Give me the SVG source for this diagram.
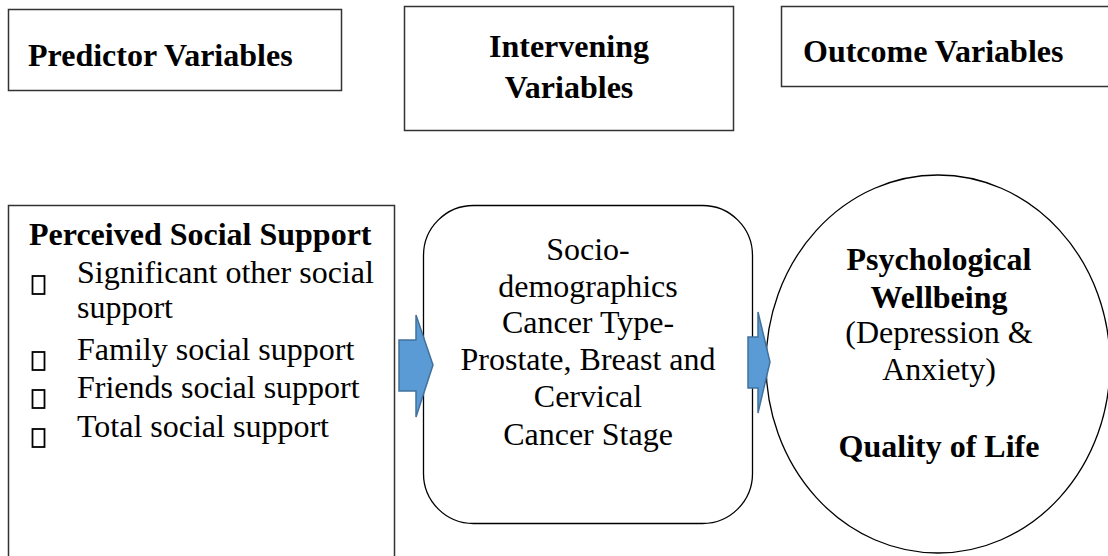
<svg xmlns="http://www.w3.org/2000/svg" width="1108" height="556" viewBox="0 0 1108 556">
<style>
.box{fill:#fff;stroke:#333;stroke-width:1.5}
.shape{fill:#fff;stroke:#000;stroke-width:1.3}
.b{font-family:"Liberation Serif","Times New Roman",serif;font-weight:bold;font-size:32px;fill:#000}
.r{font-family:"Liberation Serif","Times New Roman",serif;font-size:32px;fill:#000}
.c{text-anchor:middle}
.chk{fill:none;stroke:#000;stroke-width:1.8}
.arrow{fill:#5B9BD5;stroke:#41719C;stroke-width:1.5;stroke-linejoin:miter}
</style>
<rect width="1108" height="556" fill="#fff"/>
<g id="predictor-header">
<rect class="box" x="8.5" y="9.5" width="333" height="81"/>
<text class="b" x="28" y="66">Predictor Variables</text>
</g>
<g id="intervening-header">
<rect class="box" x="404.5" y="6.5" width="329" height="124"/>
<text class="b c" x="569" y="57">Intervening</text>
<text class="b c" x="569" y="98">Variables</text>
</g>
<g id="outcome-header">
<rect class="box" x="781.5" y="6.5" width="340" height="80"/>
<text class="b" x="803" y="62">Outcome Variables</text>
</g>
<g id="perceived-social-support">
<rect class="box" x="8.5" y="205.5" width="386" height="360"/>
<text class="b" x="29" y="245">Perceived Social Support</text>
<rect class="chk" x="32.5" y="276" width="12" height="18"/>
<text class="r" x="77" y="283">Significant other social</text>
<text class="r" x="77" y="318">support</text>
<rect class="chk" x="32.5" y="352" width="12" height="18"/>
<text class="r" x="77" y="360">Family social support</text>
<rect class="chk" x="32.5" y="390" width="12" height="18"/>
<text class="r" x="77" y="398">Friends social support</text>
<rect class="chk" x="32.5" y="429" width="12" height="18"/>
<text class="r" x="77" y="437">Total social support</text>
</g>
<g id="intervening">
<rect class="shape" x="423.5" y="205.5" width="329" height="318" rx="50" ry="50"/>
<text class="r c" x="588" y="260">Socio-</text>
<text class="r c" x="588" y="297">demographics</text>
<text class="r c" x="588" y="333">Cancer Type-</text>
<text class="r c" x="588" y="370">Prostate, Breast and</text>
<text class="r c" x="588" y="407">Cervical</text>
<text class="r c" x="588" y="445">Cancer Stage</text>
</g>
<g id="outcome">
<ellipse class="shape" cx="938" cy="364" rx="172" ry="189"/>
<text class="b c" x="939" y="270">Psychological</text>
<text class="b c" x="939" y="308">Wellbeing</text>
<text class="r c" x="939" y="343">(Depression &amp;</text>
<text class="r c" x="939" y="380">Anxiety)</text>
<text class="b c" x="939" y="457">Quality of Life</text>
</g>
<g id="connectors">
<path class="arrow" d="M399,340 L416,340 L416,315 L433,365 L416,417 L416,391 L399,391 Z"/>
<path class="arrow" d="M748,337 L758,337 L758,312 L770,362 L758,413 L758,388 L748,388 Z"/>
</g>
</svg>
